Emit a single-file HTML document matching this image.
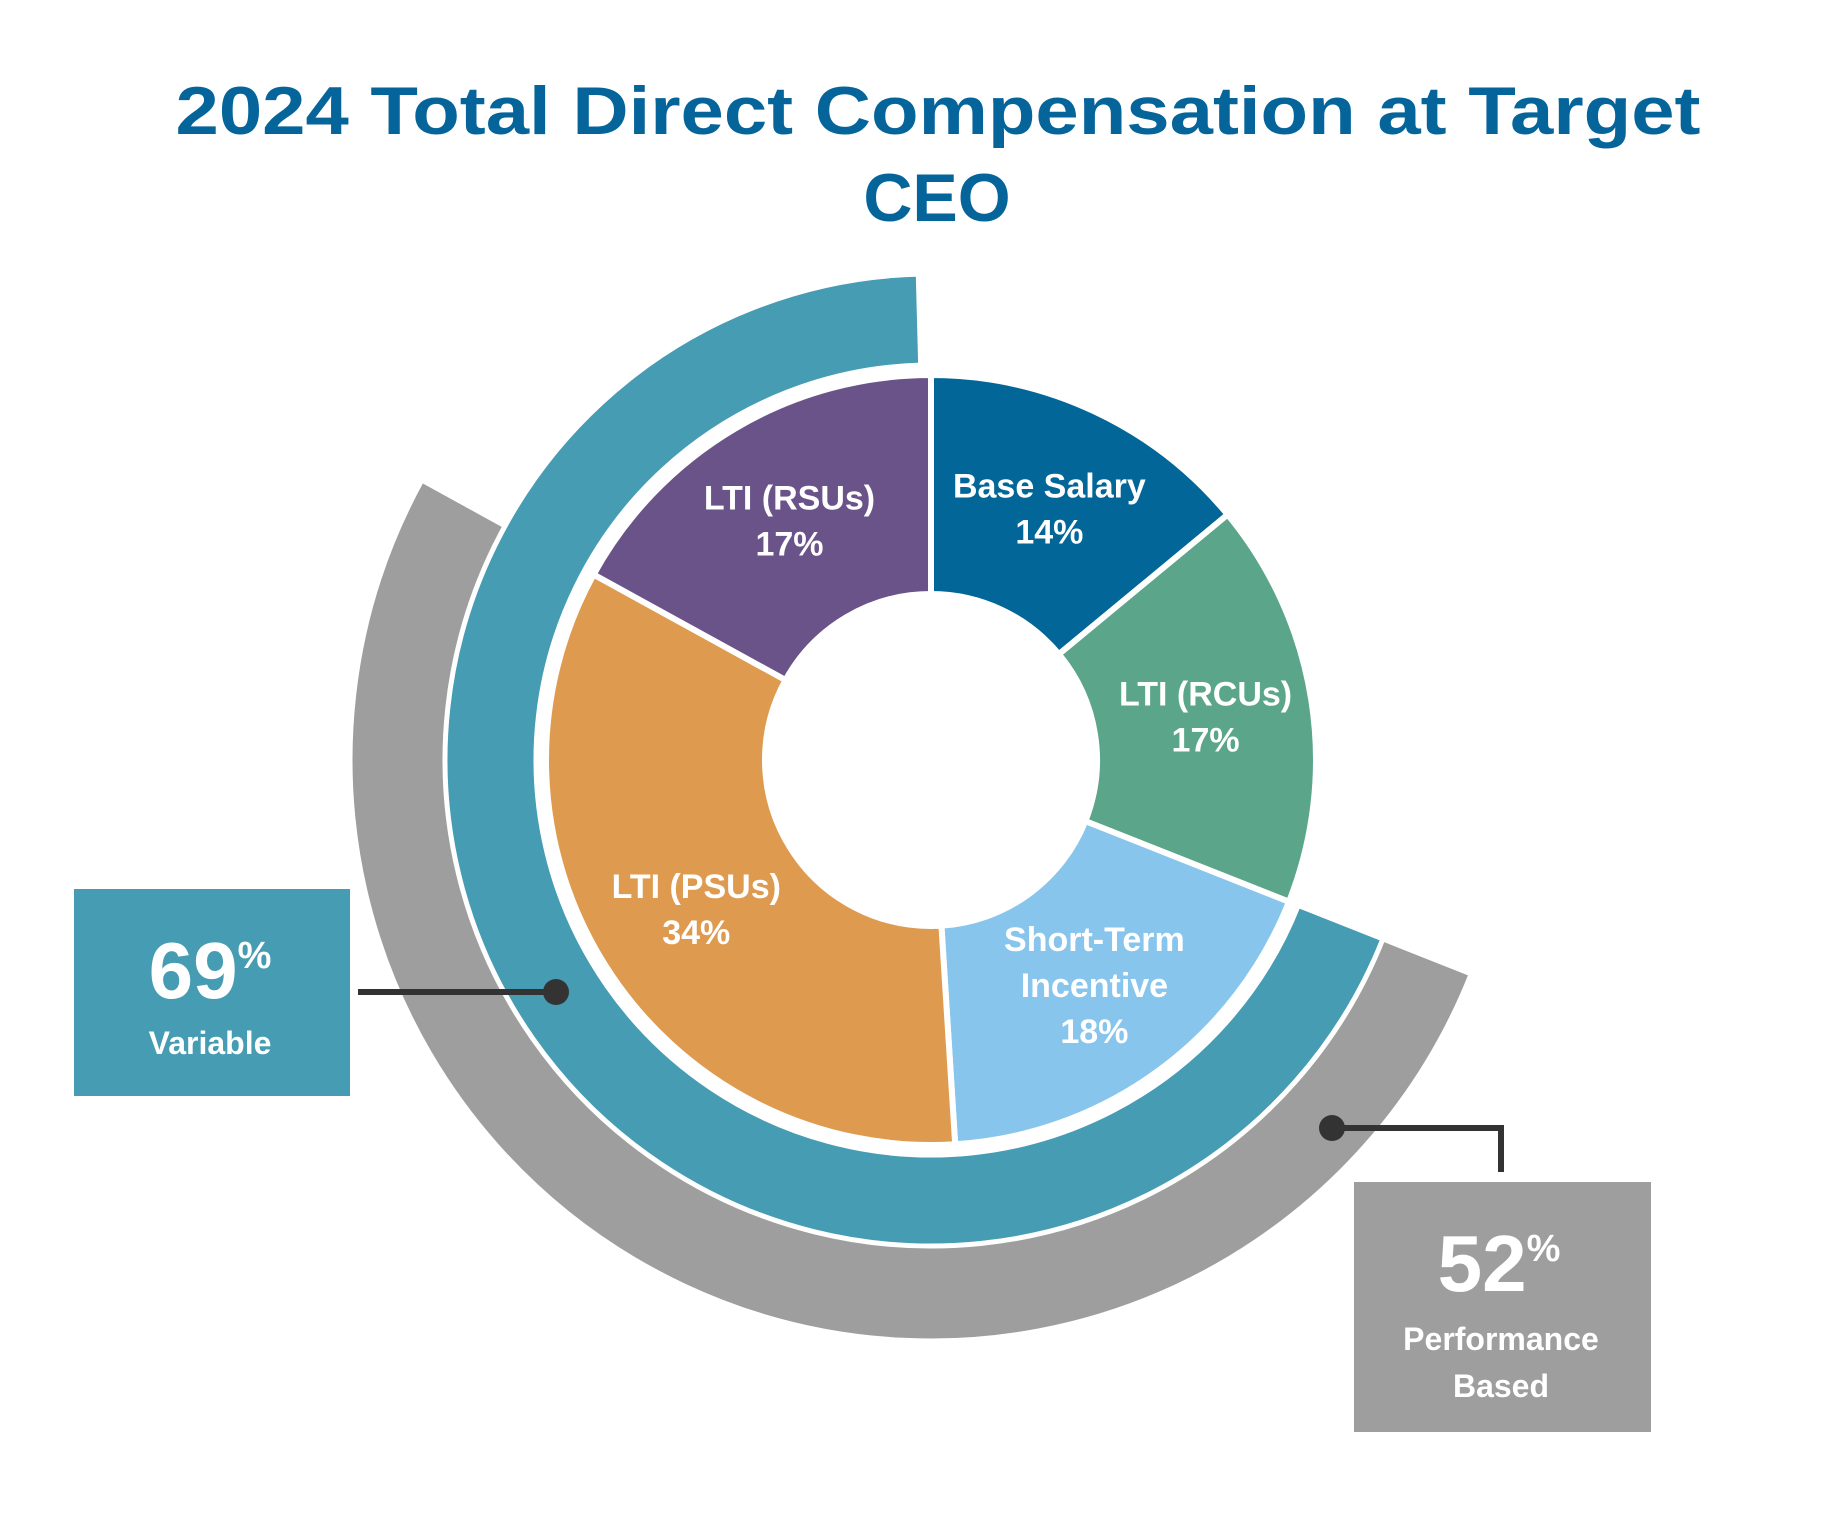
<!DOCTYPE html>
<html><head><meta charset="utf-8"><style>
html,body{margin:0;padding:0;background:#fff;}
svg{display:block;font-family:"Liberation Sans",Arial,sans-serif;font-weight:bold;}
</style></head><body>
<svg id="chart" width="1839" height="1530" viewBox="0 0 1839 1530">
<text x="938" y="134" text-anchor="middle" font-size="68" fill="#05659b" textLength="1525" lengthAdjust="spacingAndGlyphs">2024 Total Direct Compensation at Target</text>
<text x="937" y="221" text-anchor="middle" font-size="68" fill="#05659b">CEO</text>
<g id="rings"></g>
<g id="pie"></g>
<g id="labels"></g>
<g>
<rect x="74" y="889" width="276" height="207" fill="#469cb3"/>
<text x="210" y="998" text-anchor="middle" font-size="80" fill="#fff">69<tspan font-size="38" dy="-30">%</tspan></text>
<text x="210" y="1054" text-anchor="middle" font-size="32" fill="#fff">Variable</text>
<line x1="358" y1="992" x2="556" y2="992" stroke="#333" stroke-width="6"/>
<circle cx="556" cy="992" r="13" fill="#333"/>
</g>
<g>
<rect x="1354" y="1182" width="297" height="250" fill="#9e9e9e"/>
<text x="1499" y="1291" text-anchor="middle" font-size="80" fill="#fff">52<tspan font-size="38" dy="-30">%</tspan></text>
<text x="1501" y="1350" text-anchor="middle" font-size="32" fill="#fff">Performance</text>
<text x="1501" y="1397" text-anchor="middle" font-size="32" fill="#fff">Based</text>
<polyline points="1332,1128 1501,1128 1501,1172" fill="none" stroke="#333" stroke-width="6"/>
<circle cx="1332" cy="1128" r="13" fill="#333"/>
</g>
</svg>
<script>
const categories = ["Base Salary", "LTI (RCUs)", "Short-Term Incentive", "LTI (PSUs)", "LTI (RSUs)"];
const values = [14, 17, 18, 34, 17];
const colors = ["#036699", "#5ba68b", "#88c5ec", "#de9b4f", "#6a5389"];
const ringNames = ["Variable", "Performance Based"];
const ringValues = [69, 52];
const labelLines = [["Base Salary"], ["LTI (RCUs)"], ["Short-Term", "Incentive"], ["LTI (PSUs)"], ["LTI (RSUs)"]];

const CX = 931, CY = 760, NS = "http://www.w3.org/2000/svg";
function pt(r, deg){ const a = deg*Math.PI/180; return [CX + r*Math.sin(a), CY - r*Math.cos(a)]; }
function arcPath(r0, r1, a0, a1){
  const large = (a1 - a0) > 180 ? 1 : 0;
  const p0 = pt(r1,a0), p1 = pt(r1,a1), p2 = pt(r0,a1), p3 = pt(r0,a0);
  return `M${p0[0]},${p0[1]} A${r1},${r1} 0 ${large} 1 ${p1[0]},${p1[1]} L${p2[0]},${p2[1]} A${r0},${r0} 0 ${large} 0 ${p3[0]},${p3[1]} Z`;
}
const total = values.reduce((a,b)=>a+b,0);
const pie = document.getElementById('pie');
const labels = document.getElementById('labels');
let acc = 0;
const starts = [];
values.forEach((v,i)=>{
  const a0 = acc/total*360, a1 = (acc+v)/total*360;
  starts.push(a0);
  const p = document.createElementNS(NS,'path');
  p.setAttribute('d', arcPath(166, 385, a0, a1));
  p.setAttribute('fill', colors[i]);
  p.setAttribute('stroke', '#fff');
  p.setAttribute('stroke-width', '6');
  
  
  pie.appendChild(p);
  const mid = (a0+a1)/2;
  const c = pt(278, mid);
  const lines = labelLines[i].concat([v + "%"]);
  lines.forEach((t,k)=>{
    const tx = document.createElementNS(NS,'text');
    tx.setAttribute('x', c[0]);
    tx.setAttribute('y', c[1] + (k - (lines.length-1)/2)*46 + 12);
    tx.setAttribute('text-anchor','middle');
    tx.setAttribute('font-size','34');
    tx.setAttribute('fill','#fff');
    tx.textContent = t;
    
    
    labels.appendChild(tx);
  });
  acc += v;
});
const rings = document.getElementById('rings');
const varStart = starts[2];
const perfStart = starts[2];
const g = document.createElementNS(NS,'path');
g.setAttribute('d', arcPath(482, 581, perfStart, perfStart + ringValues[1]/100*360));
g.setAttribute('fill', '#9e9e9e');
g.setAttribute('stroke', '#fff');
g.setAttribute('stroke-width', '5');


rings.appendChild(g);
const t = document.createElementNS(NS,'path');
t.setAttribute('d', arcPath(395, 486, varStart, Math.min(varStart + ringValues[0]/100*360, 358.5)));
t.setAttribute('fill', '#469cb3');
t.setAttribute('stroke', '#fff');
t.setAttribute('stroke-width', '5');


rings.appendChild(t);
</script>
</body></html>
